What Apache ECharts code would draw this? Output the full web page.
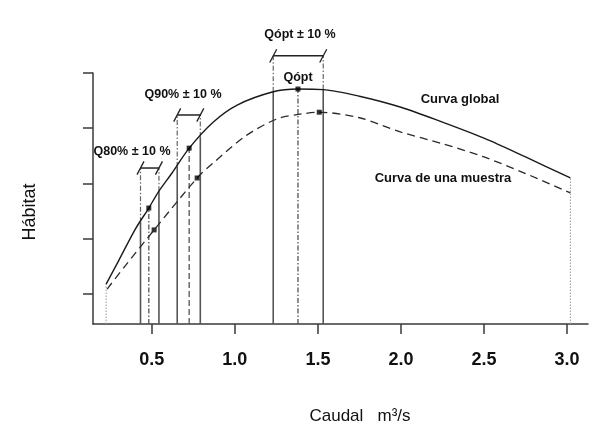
<!DOCTYPE html>
<html><head><meta charset="utf-8">
<script src="https://cdn.jsdelivr.net/npm/echarts@6/dist/echarts.min.js"></script>
<style>html,body{margin:0;padding:0;background:#fff}#c{width:605px;height:427px}</style>
</head><body><div id="c"></div>
<script>
// ---- data ----
const xTicks = [0.5, 1.0, 1.5, 2.0, 2.5, 3.0];
const yTicks = [1, 2, 3, 4, 5];
const xMin = 0.146, xMax = 3.126, yMin = 0.457, yMax = 5;

const globalX = [0.225, 0.30, 0.40, 0.482, 0.54, 0.622, 0.725, 0.869, 1.014, 1.231, 1.38, 1.532, 1.75, 2.0, 2.25, 2.5, 2.75, 3.02];
const globalY = [1.18, 1.60, 2.17, 2.556, 2.85, 3.19, 3.64, 4.11, 4.42, 4.66, 4.71, 4.70, 4.58, 4.38, 4.11, 3.82, 3.48, 3.10];

const sampleX = [0.231, 0.34, 0.514, 0.773, 0.869, 1.074, 1.255, 1.405, 1.508, 1.75, 2.0, 2.25, 2.5, 2.75, 3.02];
const sampleY = [1.09, 1.51, 2.16, 3.10, 3.37, 3.88, 4.17, 4.26, 4.29, 4.19, 3.93, 3.72, 3.48, 3.18, 2.83];

const globalMarkX = [0.482, 0.725, 1.38];
const globalMarkY = [2.556, 3.64, 4.71];
const sampleMarkX = [0.514, 0.773, 1.508];
const sampleMarkY = [2.16, 3.10, 4.29];

const qCenter = [0.482, 0.725, 1.38];
const qCenterTop = [2.556, 3.64, 4.71];
const qLow = [0.432, 0.653, 1.231];
const qHigh = [0.543, 0.792, 1.532];
const qLowTop = [2.30, 3.30, 4.66];
const qHighTop = [2.86, 3.84, 4.70];
const bracketY = [3.28, 4.24, 5.31];
const centerDash = ['dashdot', 'dashed', 'dashdot'];

const endX = [0.225, 3.02];
const endTop = [1.18, 3.10];

// ---- build chart ----
const DASHDOT = [5, 2, 1.5, 2];
const series = [];
function seg(pts, color, width, type, z) {
  series.push({
    type: 'line', data: pts, symbol: 'none', clip: false, silent: true,
    animation: false, z: z || 2,
    lineStyle: { color: color, width: width, type: type }
  });
}
const zip = (a, b) => a.map((v, i) => [v, b[i]]);

seg(zip(globalX, globalY), '#1a1a1a', 1.4, 'solid', 5);
series[series.length - 1].smooth = 0.3;
seg(zip(sampleX, sampleY), '#2a2a2a', 1.3, [8, 5], 5);
series[series.length - 1].smooth = 0.3;

for (let i = 0; i < qCenter.length; i++) {
  // solid edges from axis to curve
  seg([[qLow[i], yMin], [qLow[i], qLowTop[i]]], '#555', 1.6, 'solid');
  seg([[qHigh[i], yMin], [qHigh[i], qHighTop[i]]], '#555', 1.6, 'solid');
  // dash-dot edges from curve to bracket
  seg([[qLow[i], qLowTop[i]], [qLow[i], bracketY[i]]], '#666', 1.2, DASHDOT);
  seg([[qHigh[i], qHighTop[i]], [qHigh[i], bracketY[i]]], '#666', 1.2, DASHDOT);
  // centre line
  seg([[qCenter[i], yMin], [qCenter[i], qCenterTop[i]]], '#555', 1.3,
      centerDash[i] === 'dashed' ? [6, 3] : DASHDOT);
  // bracket
  seg([[qLow[i], bracketY[i]], [qHigh[i], bracketY[i]]], '#222', 1.5, 'solid');
  const dx = 0.021, dy = 0.12;
  seg([[qLow[i] - dx, bracketY[i] - dy], [qLow[i] + dx, bracketY[i] + dy]], '#222', 1.3, 'solid');
  seg([[qHigh[i] - dx, bracketY[i] - dy], [qHigh[i] + dx, bracketY[i] + dy]], '#222', 1.3, 'solid');
}
for (let i = 0; i < endX.length; i++) {
  seg([[endX[i], yMin], [endX[i], endTop[i]]], '#999', 1, [1.5, 1.5]);
}
series.push({
  type: 'scatter', data: zip(globalMarkX, globalMarkY).concat(zip(sampleMarkX, sampleMarkY)),
  symbol: 'rect', symbolSize: 5, itemStyle: { color: '#000' }, z: 10, silent: true, animation: false, clip: false
});

const FONT = '"Liberation Sans", Arial, sans-serif';
const axisCol = '#3a3a3a';
const option = {
  backgroundColor: '#fff',
  animation: false,
  grid: { left: 93, right: 17, top: 73, bottom: 103 },
  xAxis: {
    type: 'value', min: xMin, max: xMax,
    axisLine: { show: true, onZero: false, lineStyle: { color: axisCol, width: 1.5 } },
    axisTick: { show: true, customValues: xTicks, length: 10, lineStyle: { color: axisCol, width: 1.5 } },
    axisLabel: { customValues: xTicks, formatter: v => v.toFixed(1), fontSize: 18, fontWeight: 'bold',
                 color: '#111', margin: 27, fontFamily: FONT },
    splitLine: { show: false }
  },
  yAxis: {
    type: 'value', min: yMin, max: yMax,
    axisLine: { show: true, onZero: false, lineStyle: { color: axisCol, width: 1.5 } },
    axisTick: { show: true, customValues: yTicks, length: 10, lineStyle: { color: axisCol, width: 1.5 } },
    axisLabel: { show: false },
    splitLine: { show: false }
  },
  series: series,
  graphic: [
    { type: 'text', x: 460, y: 99, style: { text: 'Curva global', font: 'bold 13px ' + FONT, fill: '#111', align: 'center', verticalAlign: 'middle' } },
    { type: 'text', x: 443, y: 178, style: { text: 'Curva de una muestra', font: 'bold 13px ' + FONT, fill: '#111', align: 'center', verticalAlign: 'middle' } },
    { type: 'text', x: 300, y: 35, style: { text: 'Qópt ± 10 %', font: 'bold 12.5px ' + FONT, fill: '#111', align: 'center', verticalAlign: 'middle' } },
    { type: 'text', x: 298, y: 78, style: { text: 'Qópt', font: 'bold 12.5px ' + FONT, fill: '#111', align: 'center', verticalAlign: 'middle' } },
    { type: 'text', x: 183, y: 95, style: { text: 'Q90% ± 10 %', font: 'bold 12.5px ' + FONT, fill: '#111', align: 'center', verticalAlign: 'middle' } },
    { type: 'text', x: 132, y: 152, style: { text: 'Q80% ± 10 %', font: 'bold 12.5px ' + FONT, fill: '#111', align: 'center', verticalAlign: 'middle' } },
    { type: 'text', x: 360, y: 416, style: { text: 'Caudal   m³/s', font: '17px ' + FONT, fill: '#111', align: 'center', verticalAlign: 'middle' } },
    { type: 'text', x: 30, y: 212, rotation: Math.PI / 2, style: { text: 'Hábitat', font: '18px ' + FONT, fill: '#111', align: 'center', verticalAlign: 'middle' } }
  ]
};
const chart = echarts.init(document.getElementById('c'), null, { renderer: 'canvas' });
chart.setOption(option);
</script>
</body></html>
